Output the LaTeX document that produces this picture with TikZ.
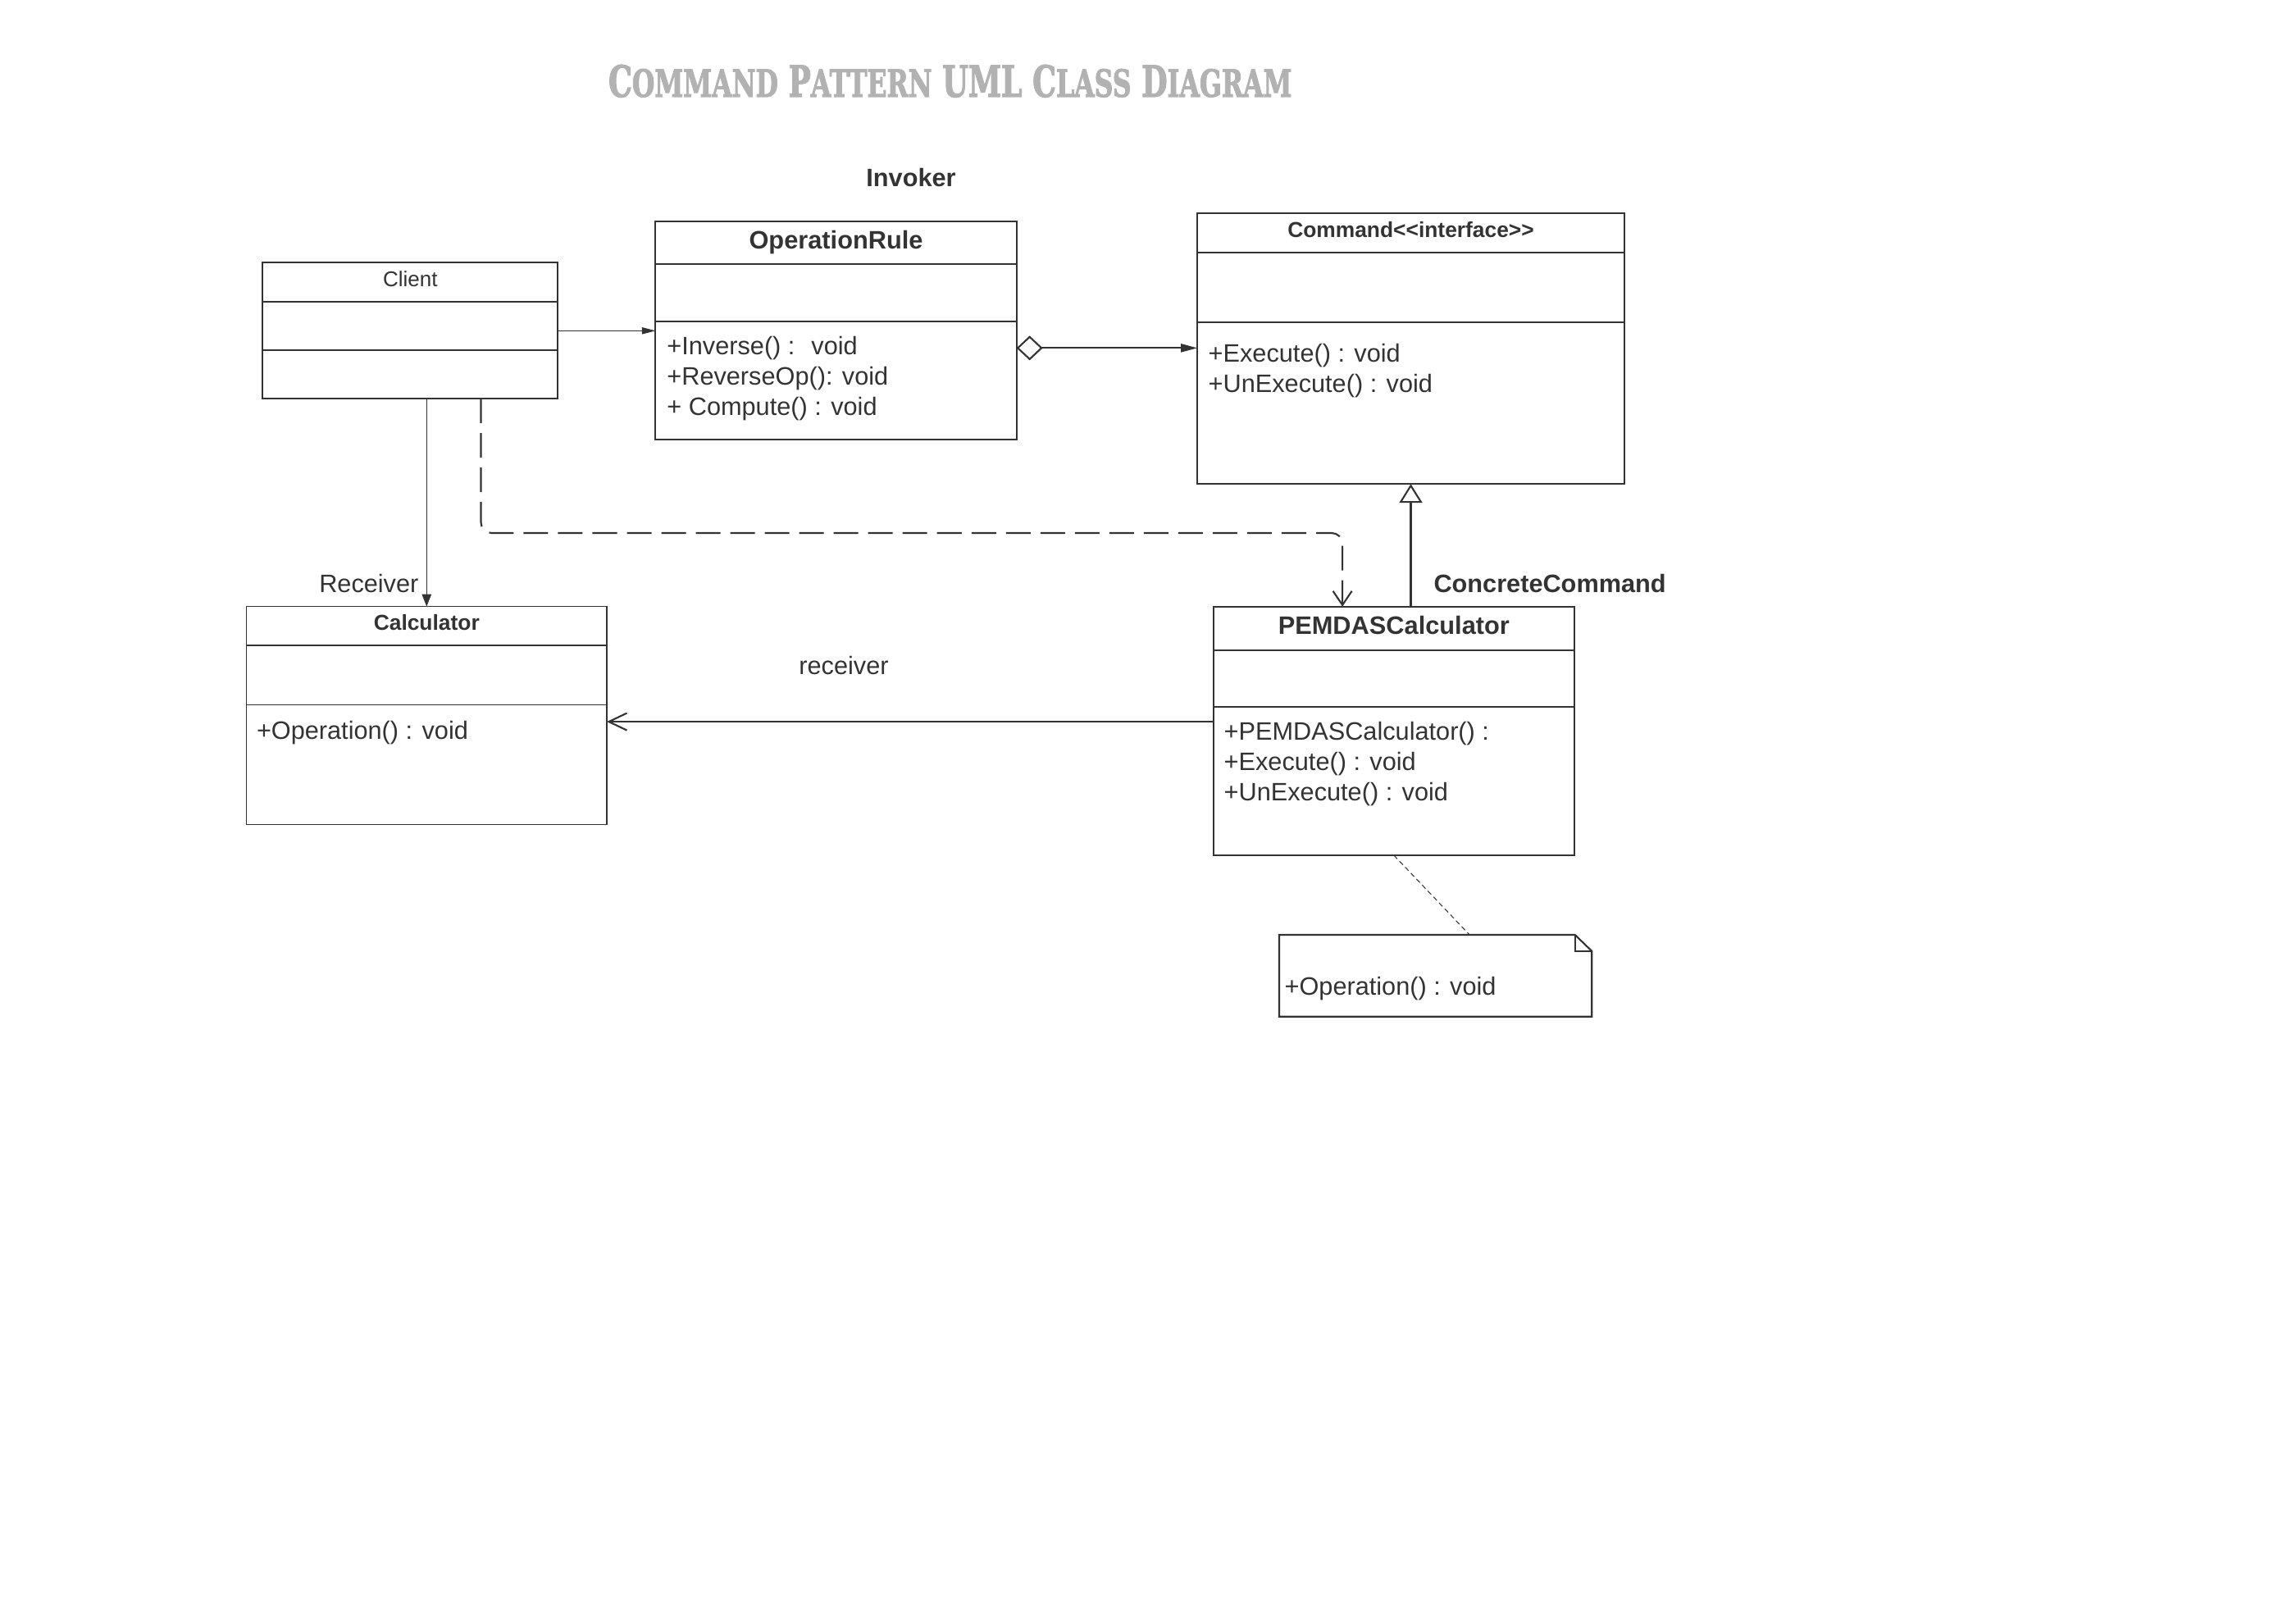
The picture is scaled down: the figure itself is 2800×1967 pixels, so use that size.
\documentclass[tikz,border=0pt]{standalone}
\usepackage{fontspec}
\setmainfont{Liberation Sans}
\newfontfamily\titlefont[BoldFeatures={FakeBold=2.5}]{DejaVu Serif}
\usepackage{graphicx}
\usetikzlibrary{arrows.meta,positioning}
\definecolor{ink}{HTML}{333333}
\definecolor{titlegray}{HTML}{B2B2B2}
\newcommand\tsc[2]{#1{\fontsize{17.4pt}{17.4pt}\selectfont\MakeUppercase{#2}}}

\begin{document}
\begin{tikzpicture}[x=0.01cm, y=-0.01cm,
    every node/.style={inner sep=0pt, outer sep=0pt, text=ink},
    part/.style={draw=ink, line width=0.55pt},
    classhead/.style={part, font=\bfseries\fontsize{8.75pt}{10pt}\selectfont, text depth=0.08cm},
    smallhead/.style={part, font=\bfseries\fontsize{7.5pt}{9pt}\selectfont, text depth=0.08cm},
    ops/.style={align=left, font=\fontsize{8.73pt}{0.37cm}\selectfont},
    lbl/.style={anchor=base, font=\fontsize{8.73pt}{10.5pt}\selectfont},
    boldlbl/.style={lbl, font=\bfseries\fontsize{8.73pt}{10.5pt}\selectfont},
    line/.style={draw=ink, line width=0.6pt},
    thinline/.style={draw=ink, line width=0.3pt}]
    \useasboundingbox (0,0) rectangle (2800,1967);

    \node[anchor=base west, text=titlegray] (title) at (742,118) {\resizebox{8.33cm}{0.39cm}{\titlefont\bfseries\fontsize{20pt}{20pt}\selectfont \tsc{C}{ommand} \tsc{P}{attern} UML \tsc{C}{lass} \tsc{D}{iagram}}};
    \node[boldlbl] (invoker) at (1111,228) {Invoker};

    \node[part, anchor=north west, minimum width=3.597cm, minimum height=0.477cm, font=\fontsize{7.4pt}{9pt}\selectfont, text depth=0.08cm] (clientT) at (320.4,320) {Client};
    \node[part, below=0pt of clientT, minimum width=3.597cm, minimum height=0.59cm] (clientA) {};
    \node[part, below=0pt of clientA, minimum width=3.597cm, minimum height=0.593cm] (clientM) {};

    \node[classhead, anchor=north west, minimum width=4.4cm, minimum height=0.523cm] (opT) at (799.4,270) {OperationRule};
    \node[part, below=0pt of opT, minimum width=4.4cm, minimum height=0.697cm] (opA) {};
    \node[part, below=0pt of opA, minimum width=4.4cm, minimum height=1.437cm] (opM) {};
    \node[ops, anchor=north west] (opOps) at (813.4,410.3) {+Inverse() :~ void\\+ReverseOp(): void\\+ Compute() : void};

    \node[smallhead, anchor=north west, minimum width=5.203cm, minimum height=0.483cm] (cmdT) at (1460.2,260) {Command<{}<interface>{}>};
    \node[part, below=0pt of cmdT, minimum width=5.203cm, minimum height=0.847cm] (cmdA) {};
    \node[part, below=0pt of cmdA, minimum width=5.203cm, minimum height=1.97cm] (cmdM) {};
    \node[ops, anchor=north west] (cmdOps) at (1473.7,419.3) {+Execute() : void\\+UnExecute() : void};

    \node[smallhead, line width=0.35pt, anchor=north west, minimum width=4.393cm, minimum height=0.474cm] (calcT) at (300.5,739.6) {Calculator};
    \node[part, line width=0.35pt, below=0pt of calcT, minimum width=4.393cm, minimum height=0.723cm] (calcA) {};
    \node[part, line width=0.35pt, below=0pt of calcA, minimum width=4.393cm, minimum height=1.457cm] (calcM) {};
    \node[ops, anchor=base west] (calcOps) at (313,901.4) {+Operation() : void};

    \node[classhead, anchor=north west, minimum width=4.4cm, minimum height=0.535cm] (pemT) at (1479.7,739.7) {PEMDASCalculator};
    \node[part, below=0pt of pemT, minimum width=4.4cm, minimum height=0.686cm] (pemA) {};
    \node[part, below=0pt of pemA, minimum width=4.4cm, minimum height=1.81cm] (pemM) {};
    \node[ops, anchor=north west] (pemOps) at (1492.7,879.8) {+PEMDASCalculator() :\\+Execute() : void\\+UnExecute() : void};

    \node[minimum width=3.81cm, minimum height=0.997cm, anchor=north west] (note) at (1560,1140) {};
    \draw[line] (note.north west) -- ([xshift=-0.205cm]note.north east) -- ([yshift=-0.198cm]note.north east) -- (note.south east) -- (note.south west) -- cycle;
    \draw[line] ([xshift=-0.205cm]note.north east) |- ([yshift=-0.198cm]note.north east);
    \node[ops, anchor=base west] (noteText) at (1566.6,1213.6) {+Operation() : void};

    \node[boldlbl, anchor=base west] (concrete) at (1748.5,722.9) {ConcreteCommand};
    \node[lbl, anchor=base east] (rcvUp) at (510.4,722.9) {Receiver};
    \node[lbl] (rcvMid) at (1029,822.9) {receiver};

    \coordinate (cliOut) at ([yshift=-0.061cm]clientA.east);
    \draw[thinline, -{Triangle[length=0.166cm, width=0.083cm]}] (cliOut) -- (cliOut -| opM.west);
    \coordinate (aggOut) at ([yshift=-0.323cm]opM.north east);
    \draw[line, {Diamond[open, length=0.32cm, width=0.30cm]}-{Triangle[length=0.20cm, width=0.10cm]}] (aggOut) -- (aggOut -| cmdM.west);
    \draw[thinline, -{Triangle[length=0.15cm, width=0.116cm]}] (clientM.south -| calcT.north) -- (calcT.north);
    \coordinate (depA) at ([xshift=0.861cm]clientM.south);
    \coordinate (depB) at ([xshift=-0.627cm]pemT.north);
    \coordinate (depY) at (0,650);
    \draw[line, dash pattern=on 0.30cm off 0.12cm, rounded corners=0.13cm, -{Straight Barb[length=0.17cm, width=0.23cm]}] (depA) |- (depY -| depB) -- (depB);
    \coordinate (recvOut) at ([yshift=-0.182cm]pemM.north west);
    \draw[line, -{Straight Barb[length=0.22cm, width=0.21cm]}] (recvOut) -- (recvOut -| calcM.east);
    \draw[line, -{Triangle[open, length=0.23cm, width=0.28cm]}] (cmdM.south |- pemT.north) -- (cmdM.south);
    \draw[thinline, dash pattern=on 0.06cm off 0.04cm] (pemM.south) -- ([xshift=0.415cm]note.north);
\end{tikzpicture}
\end{document}
